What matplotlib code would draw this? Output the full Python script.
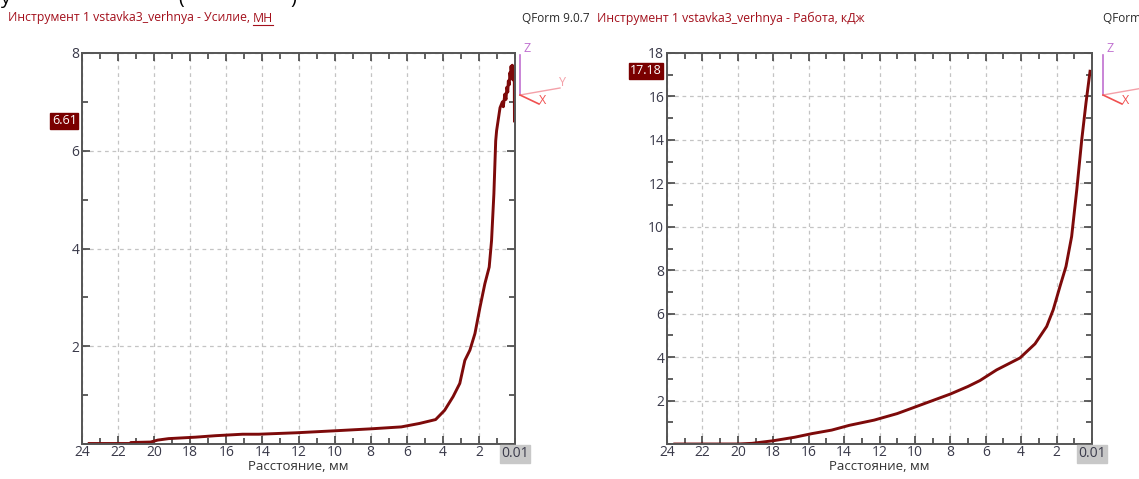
import matplotlib.pyplot as plt
import numpy as np
from matplotlib.ticker import MultipleLocator

plt.rcParams['font.family'] = ['Open Sans', 'DejaVu Sans']

# force curve, MN vs distance, mm
dist_f = [23.6, 21.3, 21.3, 20.2, 19.8, 19.2, 17.7, 16.6, 15.1, 14.2, 12.1, 10.0, 8.0, 6.3,
          5.3, 4.4, 3.9, 3.43, 3.06, 2.78, 2.5, 2.22, 1.94, 1.67, 1.43, 1.30, 1.17, 1.07,
          1.02, 0.83, 0.70, 0.65, 0.56, 0.50, 0.45, 0.40, 0.37, 0.32, 0.28, 0.25, 0.22,
          0.18, 0.15, 0.12, 0.09, 0.06, 0.04, 0.03]
force = [0.01, 0.01, 0.03, 0.04, 0.08, 0.11, 0.14, 0.17, 0.20, 0.20, 0.23, 0.27, 0.31, 0.35,
         0.42, 0.50, 0.69, 0.97, 1.24, 1.71, 1.92, 2.26, 2.80, 3.28, 3.62, 4.16, 5.12, 6.20,
         6.41, 6.88, 7.00, 6.90, 7.16, 7.05, 7.30, 7.20, 7.43, 7.35, 7.60, 7.50, 7.73,
         7.55, 7.75, 7.45, 7.70, 7.50, 7.60, 6.61]

# work curve, kJ vs distance, mm
dist_w = [23.56, 20.0, 19.2, 18.0, 16.8, 15.8, 14.7, 13.7, 12.3, 11.0, 10.0, 9.0, 8.0, 7.0,
          6.33, 5.39, 4.07, 3.22, 2.56, 2.19, 1.81, 1.47, 1.15, 0.86, 0.58, 0.34, 0.11]
work = [0.0, 0.0, 0.03, 0.15, 0.31, 0.48, 0.64, 0.86, 1.10, 1.40, 1.70, 2.00, 2.30, 2.65,
        2.92, 3.41, 3.96, 4.61, 5.41, 6.18, 7.25, 8.17, 9.55, 11.7, 14.0, 15.7, 17.16]

W, H = 1139, 479
fig = plt.figure(figsize=(W / 100, H / 100), dpi=100)

red = '#7d0a0a'
tcol = '#3a3a4a'
titlecol = '#a3101c'

def px(x, y):
    return x / W, 1 - y / H

def setup(ax, ymax, ystep, yminor, cur_label, cur_val):
    ax.set_xlim(24, 0)
    ax.set_ylim(0, ymax)
    ax.set_xticks(np.arange(24, 1, -2))
    ax.xaxis.set_minor_locator(MultipleLocator(1))
    ax.set_yticks(np.arange(ystep, ymax + 0.1, ystep))
    ax.yaxis.set_minor_locator(MultipleLocator(yminor))
    ax.tick_params(which='both', direction='in', top=True, right=True, colors='#444444',
                   labelcolor=tcol, labelsize=10, width=1.2, pad=2)
    ax.tick_params(which='major', length=6)
    ax.tick_params(which='minor', length=4)
    ax.tick_params(axis='x', pad=1)
    ax.set_yticklabels([('%g' % v) for v in np.arange(ystep, ymax + 0.1, ystep)])
    for s in ax.spines.values():
        s.set_color('#555555')
        s.set_linewidth(1.4)
    ax.grid(True, which='major', color='#c4c4c4', ls=(0, (3, 3)), lw=0.9)
    ax.set_xlabel('Расстояние, мм', fontsize=9.5, color='#333333', labelpad=0)
    # current value box on y axis
    ax.text(-0.012, cur_val, cur_label, transform=ax.get_yaxis_transform(), ha='right',
            va='center', fontsize=9, color='white',
            bbox=dict(boxstyle='square,pad=0.12', fc='#7a0000', ec='#7a0000'))
    # current distance on x axis
    ax.text(0, -0.006, '0.01', transform=ax.get_xaxis_transform(), ha='center', va='top',
            fontsize=10, color=tcol,
            bbox=dict(boxstyle='square,pad=0.12', fc='#c8c8c8', ec='#c8c8c8'))

ax1 = fig.add_axes([82 / W, 1 - 444 / H, (515 - 82) / W, (444 - 53) / H])
ax1.plot(dist_f, force, color=red, lw=2.1)
setup(ax1, 8, 2, 1, '6.61', 6.61)

ax2 = fig.add_axes([667 / W, 1 - 444 / H, (1092 - 667) / W, (444 - 53) / H])
ax2.plot(dist_w, work, color=red, lw=2.1)
setup(ax2, 18, 2, 1, '17.18', 17.18)

# titles
t1 = fig.text(*px(8, 18), 'Инструмент 1 vstavka3_verhnya - Усилие, ', fontsize=8.8,
              color=titlecol, va='center', ha='left')
fig.canvas.draw()
bb = t1.get_window_extent()
x_mn = bb.x1 / W
t2 = fig.text(x_mn, 1 - 18 / H, 'МН', fontsize=8.8, color=titlecol, va='center', ha='left')
fig.canvas.draw()
bb2 = t2.get_window_extent()
fig.add_artist(plt.Line2D([bb2.x0 / W, bb2.x1 / W], [1 - 25 / H, 1 - 25 / H],
                          color=titlecol, lw=0.8))
fig.text(*px(597, 18), 'Инструмент 1 vstavka3_verhnya - Работа, кДж', fontsize=8.8,
         color=titlecol, va='center', ha='left')

fig.text(*px(522, 18), 'QForm 9.0.7', fontsize=8.5, color='#2a2a2a', va='center', ha='left')
fig.text(*px(1103, 18), 'QForm 9.0.7', fontsize=8.5, color='#2a2a2a', va='center', ha='left')

# coordinate triads
for ox in (520, 1103):
    fig.add_artist(plt.Line2D([ox / W, ox / W], [1 - 55 / H, 1 - 95 / H], color='#c070d0', lw=1.2))
    fig.add_artist(plt.Line2D([ox / W, (ox + 40) / W], [1 - 95 / H, 1 - 88 / H], color='#f4a0a8', lw=1.0))
    fig.add_artist(plt.Line2D([ox / W, (ox + 19) / W], [1 - 95 / H, 1 - 104 / H], color='#f05050', lw=1.2))
    fig.text(*px(ox + 7, 48), 'Z', fontsize=9, color='#c070d0', ha='center', va='center')
    fig.text(*px(ox + 42, 82), 'Y', fontsize=9, color='#f4a0a8', ha='center', va='center')
    fig.text(*px(ox + 23, 100), 'X', fontsize=9, color='#f05050', ha='center', va='center')

# cut-off line of text above the charts
fig.text(*px(0, 4), 'у', fontsize=14, color='black', ha='left', va='baseline')
fig.text(*px(178, 4), '(', fontsize=14, color='black', ha='left', va='baseline')
fig.text(*px(290, 4), ')', fontsize=14, color='black', ha='left', va='baseline')

plt.savefig('out.png', dpi=100)
